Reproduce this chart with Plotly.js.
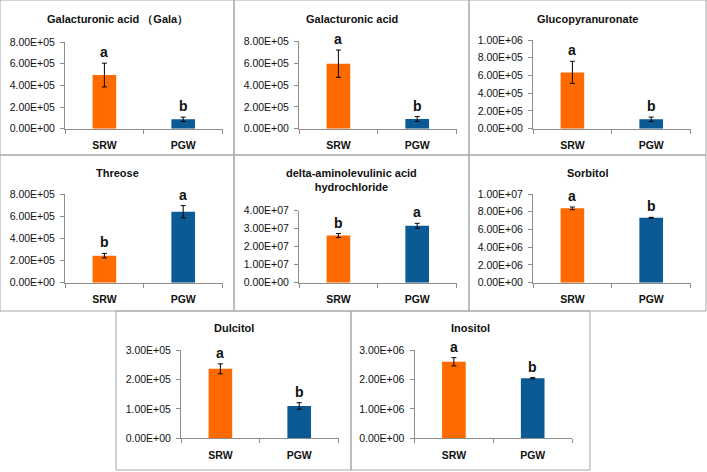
<!DOCTYPE html>
<html>
<head>
<meta charset="utf-8">
<script src="https://cdn.plot.ly/plotly-3.0.1.min.js"></script>
<style>html,body{margin:0;padding:0;background:#fff;}#chart{width:707px;height:472px;}</style>
</head>
<body>
<div id="chart"></div>
<script>
// ---- data ----
const categories = ['SRW', 'PGW'];
const titles = [
  'Galacturonic acid \uFF08Gala\uFF09',
  'Galacturonic acid',
  'Glucopyranuronate',
  'Threose',
  'delta-aminolevulinic acid<br>hydrochloride',
  'Sorbitol',
  'Dulcitol',
  'Inositol'
];
const srwValues = [4.95e5, 5.95e5, 6.35e5, 2.44e5, 2.62e7, 8.38e6, 2.36e5, 2.60e6];
const pgwValues = [0.87e5, 0.89e5, 1.06e5, 6.40e5, 3.16e7, 7.32e6, 1.10e5, 2.04e6];
const srwErrors = [1.10e5, 1.25e5, 1.25e5, 0.20e5, 1.1e6, 0.15e6, 0.17e5, 0.14e6];
const pgwErrors = [0.20e5, 0.22e5, 0.25e5, 0.55e5, 1.4e6, 0.05e6, 0.11e5, 0.02e6];
const srwLetters = ['a', 'a', 'a', 'b', 'b', 'a', 'a', 'a'];
const pgwLetters = ['b', 'b', 'b', 'a', 'a', 'b', 'b', 'b'];
const yMax  = [8e5, 8e5, 1e6, 8e5, 4e7, 1e7, 3e5, 3e6];
const yStep = [2e5, 2e5, 2e5, 2e5, 1e7, 2e6, 1e5, 1e6];

// ---- geometry (pixels) ----
const W = 707, H = 472;
const panels = [
  {x0: 0,   y0: 0,   x1: 234, y1: 155, L: 65,  T: 42,    B: 128.7, ty: 19},
  {x0: 234, y0: 0,   x1: 469, y1: 155, L: 299, T: 41.3,  B: 128.7, ty: 19},
  {x0: 469, y0: 0,   x1: 706, y1: 155, L: 533, T: 40,    B: 128.7, ty: 19},
  {x0: 0,   y0: 155, x1: 234, y1: 311, L: 65,  T: 194,   B: 282.7, ty: 172.7},
  {x0: 234, y0: 155, x1: 469, y1: 311, L: 299, T: 210.7, B: 282.7, ty: 180.5},
  {x0: 469, y0: 155, x1: 706, y1: 311, L: 533, T: 194,   B: 282.7, ty: 172.7},
  {x0: 116, y0: 311, x1: 351, y1: 470, L: 181, T: 350,   B: 438.3, ty: 328.3},
  {x0: 351, y0: 311, x1: 590, y1: 470, L: 414.5, T: 350, B: 438.3, ty: 328.3}
];
const PW = 157.6;
const orange = '#FF6A00';
const blue = '#0B5A96';
const axisGray = '#8c8c8c';
const fontFam = '"Liberation Sans", Arial, sans-serif';

function fmt(v) {
  if (v === 0) return '0.00E+00';
  const e = Math.floor(Math.log10(v) + 1e-9);
  const m = v / Math.pow(10, e);
  return m.toFixed(2) + 'E+' + String(e).padStart(2, '0');
}

const traces = [];
const layout = {
  width: W, height: H,
  margin: {l: 0, r: 0, t: 0, b: 0},
  paper_bgcolor: '#fff', plot_bgcolor: 'rgba(0,0,0,0)',
  showlegend: false,
  shapes: [], annotations: [],
  font: {family: fontFam, color: '#1a1a1a'}
};

panels.forEach((p, i) => {
  const n = i + 1;
  const xs = n === 1 ? '' : String(n);
  traces.push({
    type: 'bar',
    x: categories,
    y: [srwValues[i], pgwValues[i]],
    xaxis: 'x' + xs, yaxis: 'y' + xs,
    width: 0.3,
    marker: {color: [orange, blue], line: {width: 0}},
    error_y: {type: 'data', array: [srwErrors[i], pgwErrors[i]], visible: true,
              color: '#000', thickness: 1, width: 2.5},
    hoverinfo: 'skip'
  });
  const tv = [];
  for (let v = 0; v <= yMax[i] + 1e-6 * yMax[i]; v += yStep[i]) tv.push(v);
  layout['xaxis' + xs] = {
    domain: [p.L / W, (p.L + PW) / W],
    anchor: 'y' + xs,
    type: 'category',
    range: [-0.5, 1.5],
    showline: true, linecolor: axisGray, linewidth: 1,
    ticks: 'outside', tickson: 'boundaries', ticklen: 4, tickcolor: axisGray,
    showgrid: false, zeroline: false, fixedrange: true,
    tickfont: {family: fontFam, size: 10.5, color: '#111', weight: 'bold'},
    ticklabelstandoff: 7
  };
  layout['yaxis' + xs] = {
    domain: [1 - p.B / H, 1 - p.T / H],
    anchor: 'x' + xs,
    range: [0, yMax[i]],
    tickvals: tv, ticktext: tv.map(fmt),
    showline: true, linecolor: axisGray, linewidth: 1,
    ticks: 'outside', ticklen: 4, tickcolor: axisGray,
    showgrid: false, zeroline: false, fixedrange: true,
    tickfont: {family: fontFam, size: 10.5, color: '#111'},
    ticklabelstandoff: 3
  };
  layout.shapes.push({
    type: 'rect', xref: 'paper', yref: 'paper',
    x0: p.x0 / W, x1: p.x1 / W, y0: 1 - p.y1 / H, y1: 1 - p.y0 / H,
    line: {color: '#a6a6a6', width: 1}, fillcolor: 'rgba(0,0,0,0)', layer: 'below'
  });
  layout.annotations.push({
    xref: 'paper', yref: 'paper',
    x: (p.x0 + p.x1) / 2 / W, y: 1 - p.ty / H,
    xanchor: 'center', yanchor: 'middle',
    text: titles[i], showarrow: false,
    font: {family: fontFam, size: 11, color: '#111', weight: 'bold'}
  });
  [[srwLetters[i], srwValues[i] + srwErrors[i], 0], [pgwLetters[i], pgwValues[i] + pgwErrors[i], 1]].forEach(([t, y, k]) => {
    layout.annotations.push({
      xref: 'x' + xs, yref: 'y' + xs, x: categories[k], y: y,
      xanchor: 'center', yanchor: 'bottom', yshift: 1,
      text: t, showarrow: false,
      font: {family: fontFam, size: 14, color: '#111', weight: 'bold'}
    });
  });
});

Plotly.newPlot('chart', traces, layout, {staticPlot: true, displayModeBar: false});
</script>
</body>
</html>
